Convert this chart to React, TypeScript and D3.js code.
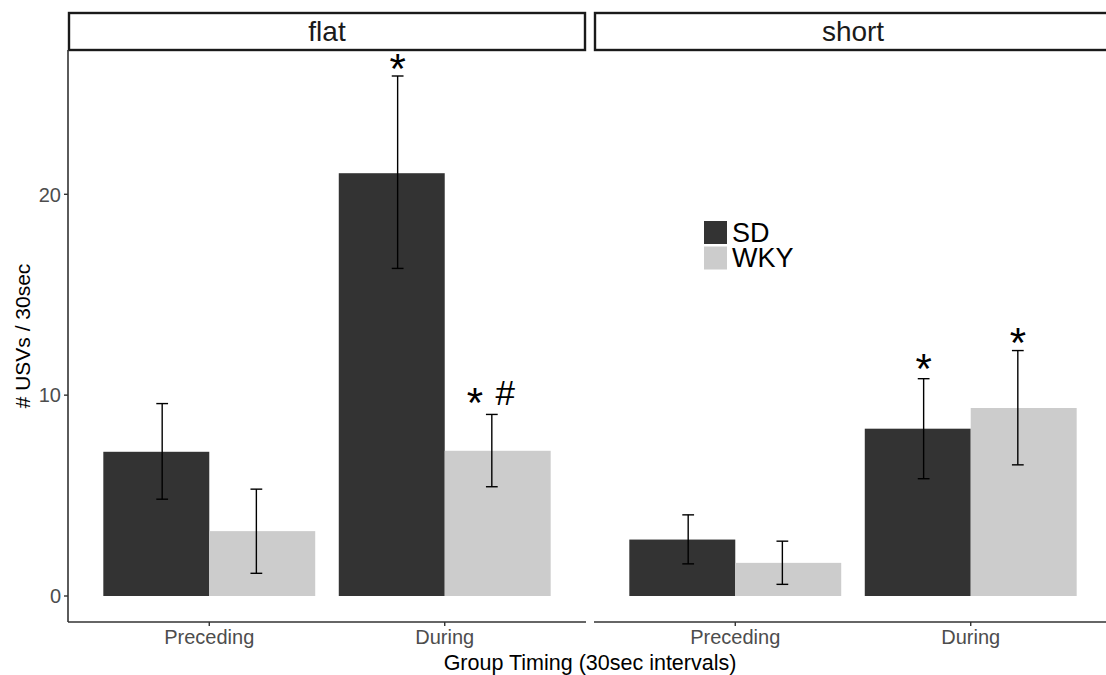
import React from 'react'
import * as d3 from 'd3'

// facets, x categories and groups
const facets = ['flat', 'short']
const timings = ['Preceding', 'During']
const strains = ['SD', 'WKY']

// means (per timing)
const flatMeanSD = [7.18, 21.05]
const flatMeanWKY = [3.23, 7.23]
const shortMeanSD = [2.81, 8.33]
const shortMeanWKY = [1.65, 9.36]

// error bar ends
const flatLowerSD = [4.82, 16.31]
const flatUpperSD = [9.58, 25.89]
const flatLowerWKY = [1.13, 5.44]
const flatUpperWKY = [5.32, 9.04]
const shortLowerSD = [1.6, 5.84]
const shortUpperSD = [4.04, 10.82]
const shortLowerWKY = [0.58, 6.53]
const shortUpperWKY = [2.73, 12.22]

// significance marks
const markFacet = ['flat', 'flat', 'short', 'short']
const markTiming = ['During', 'During', 'During', 'During']
const markStrain = ['SD', 'WKY', 'SD', 'WKY']
const markLabel = ['*', '* #', '*', '*']
const markY = [26.75, 10.1, 11.8, 13.1]

const yTicks = [0, 10, 20]

const fills: Record<string, string> = { SD: '#333333', WKY: '#cccccc' }
const font = '"Liberation Sans", Arial, Helvetica, sans-serif'

type Row = { facet: string; timing: string; strain: string; mean: number; lo: number; hi: number }

const rows: Row[] = []
const table: Record<string, number[][]> = {
  flat: [flatMeanSD, flatLowerSD, flatUpperSD, flatMeanWKY, flatLowerWKY, flatUpperWKY],
  short: [shortMeanSD, shortLowerSD, shortUpperSD, shortMeanWKY, shortLowerWKY, shortUpperWKY],
}
facets.forEach(f => {
  const t = table[f]
  timings.forEach((tm, i) => {
    rows.push({ facet: f, timing: tm, strain: 'SD', mean: t[0][i], lo: t[1][i], hi: t[2][i] })
    rows.push({ facet: f, timing: tm, strain: 'WKY', mean: t[3][i], lo: t[4][i], hi: t[5][i] })
  })
})

const W = 1106
const H = 675
const left = 68
const panelW = 518
const gap = 8
const stripTop = 13
const stripBottom = 50
const panelBottom = 622

function App() {
  const maxY = d3.max(rows, d => d.hi) as number
  const y = d3.scaleLinear().domain([-0.05 * maxY, maxY * 1.05]).range([panelBottom, stripBottom])

  const xFor = (f: string) => {
    const i = facets.indexOf(f)
    const x0 = left + i * (panelW + gap)
    return d3.scalePoint<string>().domain(timings).range([x0, x0 + panelW]).padding(0.6)
  }
  const step = xFor('flat').step()
  const barOff = d3.scaleBand<string>().domain(strains).range([-0.45 * step, 0.45 * step])
  const errOff = (s: string) => (s === 'SD' ? -0.2 : 0.2) * step
  const capHalf = 0.025 * step

  const tokenW: Record<string, number> = { '*': 15, '#': 22 }
  const tokenSize: Record<string, number> = { '*': 42, '#': 35 }
  const tokenRaise: Record<string, number> = { '*': 0.575, '#': 0.33 }

  return (
    <svg width={W} height={H} style={{ position: 'absolute', left: 0, top: 0, background: '#fff' }} fontFamily={font}>
      <rect x={0} y={0} width={W} height={H} fill="#fff" />
      {facets.map((f, fi) => {
        const x = xFor(f)
        const x0 = left + fi * (panelW + gap)
        const fr = rows.filter(r => r.facet === f)
        const fm = markFacet.map((mf, i) => i).filter(i => markFacet[i] === f)
        return (
          <g key={f}>
            {/* strip */}
            <rect x={x0 + 1} y={stripTop} width={panelW - 2} height={stripBottom - stripTop} fill="#fff" stroke="#1a1a1a" strokeWidth={2.4} />
            <text x={x0 + panelW / 2} y={(stripTop + stripBottom) / 2 + 9.5} textAnchor="middle" fontSize={28} fill="#1a1a1a">{f}</text>
            {/* bars */}
            {fr.map(r => (
              <rect key={r.timing + r.strain}
                x={(x(r.timing) as number) + (barOff(r.strain) as number)}
                width={barOff.bandwidth()}
                y={y(r.mean)} height={y(0) - y(r.mean)}
                fill={fills[r.strain]} />
            ))}
            {/* error bars */}
            {fr.map(r => {
              const cx = (x(r.timing) as number) + errOff(r.strain)
              return (
                <g key={'e' + r.timing + r.strain} stroke="#000" strokeWidth={1.4}>
                  <line x1={cx} x2={cx} y1={y(r.hi)} y2={y(r.lo)} />
                  <line x1={cx - capHalf} x2={cx + capHalf} y1={y(r.hi)} y2={y(r.hi)} />
                  <line x1={cx - capHalf} x2={cx + capHalf} y1={y(r.lo)} y2={y(r.lo)} />
                </g>
              )
            })}
            {/* significance marks */}
            {fm.map(i => {
              const cx = (x(markTiming[i]) as number) + errOff(markStrain[i])
              const cy = y(markY[i])
              const toks = markLabel[i].split(' ')
              const sp = 12
              const total = d3.sum(toks, t => tokenW[t]) + sp * (toks.length - 1)
              let pos = cx - total / 2
              return toks.map((t, k) => {
                const c = pos + tokenW[t] / 2
                pos += tokenW[t] + sp
                return (
                  <text key={'m' + i + k} x={c} y={cy + tokenRaise[t] * tokenSize[t]} textAnchor="middle"
                    fontSize={tokenSize[t]} fill="#000">{t}</text>
                )
              })
            })}
            {/* x axis */}
            <line x1={x0} x2={x0 + panelW} y1={panelBottom} y2={panelBottom} stroke="#333" strokeWidth={1.6} />
            {timings.map(t => (
              <g key={'xt' + t}>
                <line x1={x(t)} x2={x(t)} y1={panelBottom} y2={panelBottom + 4} stroke="#333" strokeWidth={1.4} />
                <text x={x(t)} y={644} textAnchor="middle" fontSize={20} fill="#4d4d4d">{t}</text>
              </g>
            ))}
          </g>
        )
      })}
      {/* y axis */}
      <line x1={left} x2={left} y1={stripBottom} y2={panelBottom} stroke="#333" strokeWidth={1.6} />
      {yTicks.map(t => (
        <g key={'yt' + t}>
          <line x1={left - 4} x2={left} y1={y(t)} y2={y(t)} stroke="#333" strokeWidth={1.4} />
          <text x={left - 7} y={y(t) + 7.2} textAnchor="end" fontSize={20} fill="#4d4d4d">{t}</text>
        </g>
      ))}
      {/* axis titles */}
      <text x={left + (2 * panelW + gap) / 2} y={670} textAnchor="middle" fontSize={21.5} fill="#000">Group Timing (30sec intervals)</text>
      <text transform={`translate(30,${(stripBottom + panelBottom) / 2}) rotate(-90)`} textAnchor="middle" fontSize={21} fill="#000"># USVs / 30sec</text>
      {/* legend */}
      {strains.map((s, i) => (
        <g key={'lg' + s}>
          <rect x={704} y={221 + i * 25.5} width={23} height={23} fill={fills[s]} />
          <text x={732} y={242 + i * 25} fontSize={27} fill="#000">{s}</text>
        </g>
      ))}
    </svg>
  )
}

export default App
